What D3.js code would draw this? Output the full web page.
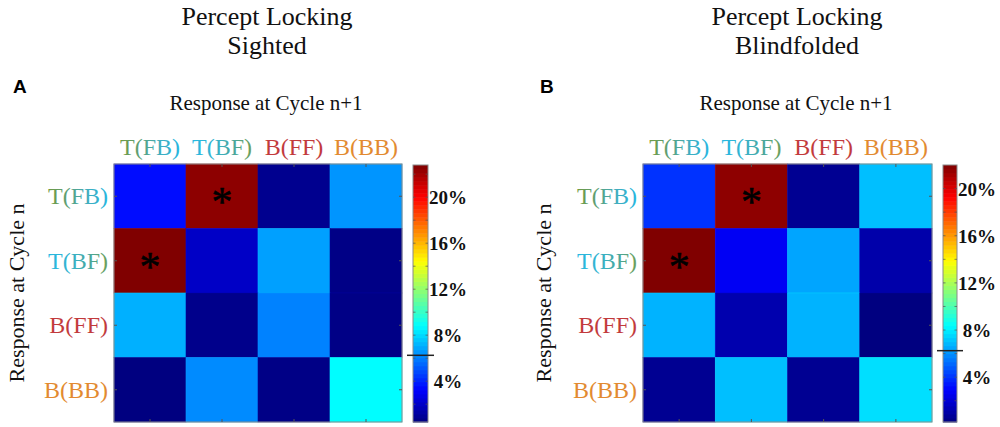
<!DOCTYPE html>
<html><head><meta charset="utf-8">
<script src="https://cdn.jsdelivr.net/npm/d3@7"></script>
<style>body{margin:0;background:#fff;} svg{display:block;}</style>
</head><body>
<svg id="chart" width="1000" height="427"></svg>
<script>
// ---- data ----
const categories = ["T(FB)", "T(BF)", "B(FF)", "B(BB)"];
// rows: response at cycle n; columns: response at cycle n+1 (percent)
const sightedValues = [
  [3.5, 22.5, 0.8, 6.5],
  [22.8, 2.0, 6.75, 0.6],
  [7.1, 0.7, 6.1, 0.6],
  [0.45, 6.3, 0.6, 8.8]
];
const blindfoldedValues = [
  [4.0, 21.7, 0.6, 7.0],
  [22.0, 2.7, 6.45, 1.1],
  [6.75, 1.2, 6.75, 0.2],
  [0.6, 7.0, 0.6, 7.7]
];
const sightedStars = [[0, 1], [1, 0]];
const blindfoldedStars = [[0, 1], [1, 0]];
const colorbarTicks = [4, 8, 12, 16, 20];
const colorbarMinorTicks = [2, 4, 6, 8, 10, 12, 14, 16, 18, 20, 22];
const chanceLevel = 6.25;
const titlesA = ["Percept Locking", "Sighted"];
const titlesB = ["Percept Locking", "Blindfolded"];
const xTitle = "Response at Cycle n+1";
const yTitle = "Response at Cycle n";

// ---- helpers ----
function jet(t) {
  const c = v => Math.max(0, Math.min(1, v));
  const r = c(1.5 - Math.abs(4 * t - 3));
  const g = c(1.5 - Math.abs(4 * t - 2));
  const b = c(1.5 - Math.abs(4 * t - 1));
  return d3.rgb(r * 255, g * 255, b * 255).toString();
}

const svg = d3.select("#chart");
const defs = svg.append("defs");

const labelStyles = {
  "T(FB)": [["0%", "#6f9a44"], ["30%", "#5f9f72"], ["65%", "#41adbd"], ["100%", "#27b6e0"]],
  "T(BF)": [["0%", "#26b8e2"], ["35%", "#35b3cf"], ["70%", "#4aa79c"], ["100%", "#6e9f55"]],
  "B(FF)": [["0%", "#c23a3c"], ["100%", "#c23a3c"]],
  "B(BB)": [["0%", "#e28a30"], ["100%", "#e28a30"]]
};
let gradId = 0;
function labelFill(name) {
  const id = "lg" + (gradId++);
  const g = defs.append("linearGradient").attr("id", id)
    .attr("x1", "0%").attr("x2", "100%").attr("y1", "0%").attr("y2", "0%");
  labelStyles[name].forEach(s => g.append("stop").attr("offset", s[0]).attr("stop-color", s[1]));
  return "url(#" + id + ")";
}

const serif = "'Liberation Serif', 'Times New Roman', serif";

function panel(opts) {
  const { values, stars, titles, letter, hx0, hx1, hy0, hy1, cbx0, cbx1, titleX, letterX, yTitleX } = opts;
  const g = svg.append("g");

  // titles
  titles.forEach((t, i) => {
    g.append("text").attr("x", titleX).attr("y", 25 + i * 29)
      .attr("text-anchor", "middle").attr("font-family", serif).attr("font-size", 26)
      .attr("fill", "#111").text(t);
  });
  g.append("text").attr("x", letterX).attr("y", 93)
    .attr("font-family", "'Liberation Sans', Arial, sans-serif").attr("font-weight", "bold")
    .attr("font-size", 19).attr("fill", "#000").text(letter);
  g.append("text").attr("x", titleX - 1).attr("y", 110)
    .attr("text-anchor", "middle").attr("font-family", serif).attr("font-size", 21)
    .attr("fill", "#111").text(xTitle);

  // scales
  const x = d3.scaleBand().domain(categories).range([hx0, hx1]);
  const y = d3.scaleBand().domain(categories).range([hy0, hy1]);
  const flat = values.flat();
  const ext = d3.extent(flat);
  const color = d3.scaleSequential(jet).domain(ext);

  // cells
  const cells = [];
  values.forEach((row, i) => row.forEach((v, j) => cells.push({ r: categories[i], c: categories[j], v })));
  g.selectAll("rect.cell").data(cells).join("rect").attr("class", "cell")
    .attr("x", d => x(d.c)).attr("y", d => y(d.r))
    .attr("width", x.bandwidth()).attr("height", y.bandwidth())
    .attr("fill", d => color(d.v))
    .attr("stroke", d => d3.color(color(d.v)).brighter(0.35)).attr("stroke-width", 0.6);

  // box and inner ticks
  g.append("rect").attr("x", hx0).attr("y", hy0).attr("width", hx1 - hx0).attr("height", hy1 - hy0)
    .attr("fill", "none").attr("stroke", "#8a8a8a").attr("stroke-width", 1);
  const tk = 3;
  categories.forEach(c => {
    const cx = x(c) + x.bandwidth() / 2, cy = y(c) + y.bandwidth() / 2;
    g.append("line").attr("x1", cx).attr("x2", cx).attr("y1", hy0).attr("y2", hy0 + tk).attr("stroke", "#555");
    g.append("line").attr("x1", cx).attr("x2", cx).attr("y1", hy1).attr("y2", hy1 - tk).attr("stroke", "#555");
    g.append("line").attr("y1", cy).attr("y2", cy).attr("x1", hx0).attr("x2", hx0 + tk).attr("stroke", "#555");
    g.append("line").attr("y1", cy).attr("y2", cy).attr("x1", hx1).attr("x2", hx1 - tk).attr("stroke", "#555");
  });

  // stars
  g.selectAll("text.star").data(stars).join("text").attr("class", "star")
    .attr("x", d => x(categories[d[1]]) + x.bandwidth() / 2)
    .attr("y", d => y(categories[d[0]]) + y.bandwidth() / 2 + 20)
    .attr("text-anchor", "middle").attr("font-family", serif).attr("font-size", 42)
    .attr("fill", "#000").attr("stroke", "#000").attr("stroke-width", 0.6).text("*");

  // column labels
  g.selectAll("text.col").data(categories).join("text").attr("class", "col")
    .attr("x", d => x(d) + x.bandwidth() / 2).attr("y", 155)
    .attr("text-anchor", "middle").attr("font-family", serif).attr("font-size", 24)
    .attr("fill", d => labelFill(d)).text(d => d);
  // row labels
  g.selectAll("text.row").data(categories).join("text").attr("class", "row")
    .attr("x", hx0 - 6).attr("y", d => y(d) + y.bandwidth() / 2 + 8)
    .attr("text-anchor", "end").attr("font-family", serif).attr("font-size", 24)
    .attr("fill", d => labelFill(d)).text(d => d);

  // y title
  g.append("text").attr("transform", `translate(${yTitleX},293) rotate(-90)`)
    .attr("text-anchor", "middle").attr("font-family", serif).attr("font-size", 22)
    .attr("fill", "#111").text(yTitle);

  // colorbar
  const cbY = d3.scaleLinear().domain(ext).range([hy1, hy0 + 1]);
  const nSteps = 64;
  const step = (ext[1] - ext[0]) / nSteps;
  const bands = d3.range(nSteps).map(k => ext[0] + k * step);
  g.selectAll("rect.cb").data(bands).join("rect").attr("class", "cb")
    .attr("x", cbx0).attr("width", cbx1 - cbx0)
    .attr("y", d => cbY(d + step)).attr("height", d => cbY(d) - cbY(d + step) + 0.5)
    .attr("fill", d => color(d + step / 2));
  g.append("rect").attr("x", cbx0).attr("y", cbY(ext[1])).attr("width", cbx1 - cbx0)
    .attr("height", cbY(ext[0]) - cbY(ext[1])).attr("fill", "none").attr("stroke", "#8a8a8a");
  colorbarMinorTicks.filter(v => v > ext[0] && v < ext[1]).forEach(v => {
    g.append("line").attr("x1", cbx0).attr("x2", cbx0 + 2.5).attr("y1", cbY(v)).attr("y2", cbY(v)).attr("stroke", "#555").attr("stroke-opacity", 0.7);
    g.append("line").attr("x1", cbx1).attr("x2", cbx1 - 2.5).attr("y1", cbY(v)).attr("y2", cbY(v)).attr("stroke", "#555").attr("stroke-opacity", 0.7);
  });
  const axis = d3.axisRight(cbY).tickValues(colorbarTicks).tickSize(0).tickFormat(d => d + "%");
  const ag = g.append("g").attr("transform", `translate(${cbx1},0)`).call(axis);
  ag.select(".domain").remove();
  ag.selectAll("text").attr("x", 20).attr("dy", "0.35em").attr("text-anchor", "middle")
    .attr("font-family", serif).attr("font-weight", "bold").attr("font-size", 19).attr("fill", "#111");

  // chance line
  g.append("line").attr("x1", cbx0 - 6).attr("x2", cbx1 + 6)
    .attr("y1", cbY(chanceLevel)).attr("y2", cbY(chanceLevel))
    .attr("stroke", "#222").attr("stroke-width", 1.5);
}

panel({ values: sightedValues, stars: sightedStars, titles: titlesA, letter: "A",
  hx0: 114, hx1: 402, hy0: 164, hy1: 422, cbx0: 413, cbx1: 428,
  titleX: 267, letterX: 13, yTitleX: 24 });
panel({ values: blindfoldedValues, stars: blindfoldedStars, titles: titlesB, letter: "B",
  hx0: 643, hx1: 932, hy0: 164, hy1: 422, cbx0: 943, cbx1: 957,
  titleX: 797, letterX: 540, yTitleX: 551 });
</script>
</body></html>
